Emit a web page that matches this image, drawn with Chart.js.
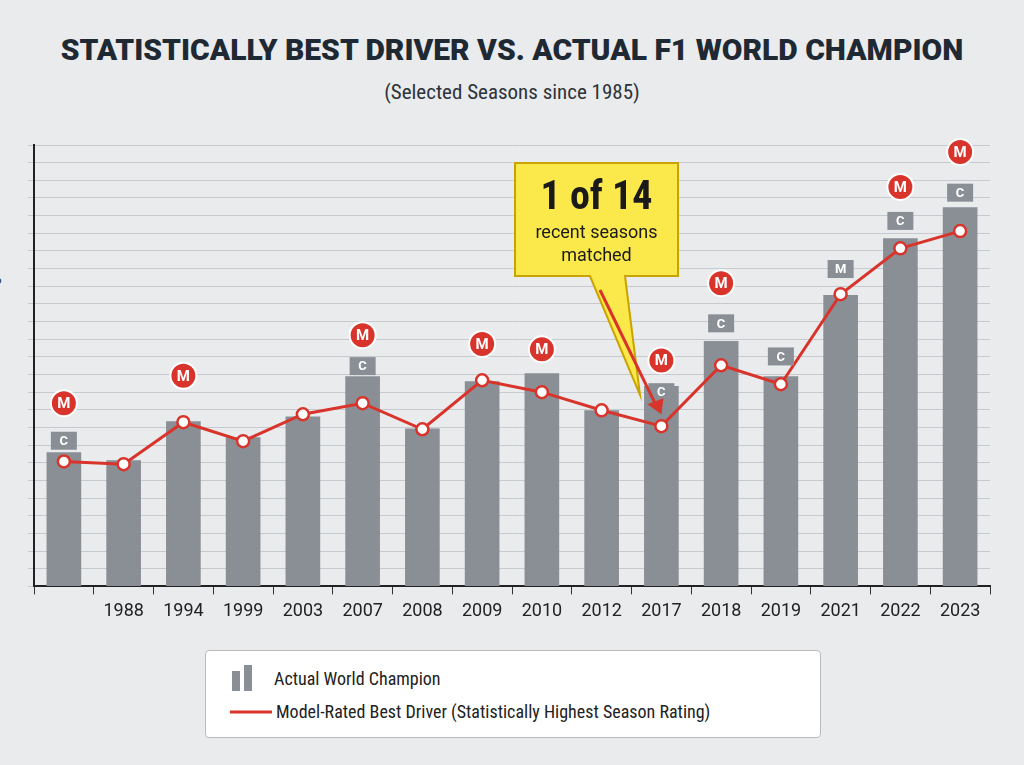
<!DOCTYPE html>
<html>
<head>
<meta charset="utf-8">
<script src="https://cdn.jsdelivr.net/npm/chart.js@4/dist/chart.umd.min.js"></script>
<style>
  body { margin:0; width:1024px; height:765px; background:#e9ebed; font-family:"Roboto Condensed","Roboto",sans-serif; position:relative; overflow:hidden; }
  #title { position:absolute; top:32px; width:100%; text-align:center; font-family:"Roboto"; font-weight:900; font-size:30px; color:#1f2933; letter-spacing:0; }
  #sub { position:absolute; top:80px; width:100%; text-align:center; font-size:21px; color:#2d3339; }
  #ytitle { position:absolute; left:-70px; top:330px; transform:rotate(-90deg); font-size:16px; color:#333; white-space:nowrap; }
  #wrap { position:absolute; left:0; top:0; width:1024px; height:640px; }
  #legend { position:absolute; left:205px; top:650px; width:614px; height:86px; background:#fff; border:1px solid #bbb; border-radius:4px; font-size:18px; color:#222; }
  .row { position:absolute; left:24px; display:flex; align-items:center; }
</style>
</head>
<body>
<div id="title">STATISTICALLY BEST DRIVER VS. ACTUAL F1 WORLD CHAMPION</div>
<div id="sub">(Selected Seasons since 1985)</div>
<div id="ytitle">Performance Rating</div>
<div id="wrap"><canvas id="c"></canvas></div>
<div id="legend">
  <div class="row" style="top:14px">
    <svg width="30" height="26"><rect x="2" y="6" width="8" height="20" fill="#8a8f96"/><rect x="14" y="0" width="8" height="26" fill="#8a8f96"/></svg>
    <span style="margin-left:14px">Actual World Champion</span>
  </div>
  <div class="row" style="top:50px">
    <svg width="42" height="10"><line x1="0" y1="5" x2="42" y2="5" stroke="#d9342b" stroke-width="3"/></svg>
    <span style="margin-left:4px">Model-Rated Best Driver (Statistically Highest Season Rating)</span>
  </div>
</div>
<script>
const seasons = ['', '1988', '1994', '1999', '2003', '2007', '2008', '2009', '2010', '2012', '2017', '2018', '2019', '2021', '2022', '2023'];
const championRating = [30.4, 28.6, 37.4, 33.8, 38.5, 47.6, 35.8, 46.5, 48.3, 39.9, 45.4, 55.6, 47.6, 66.0, 78.9, 85.9];
const modelRating = [28.3, 27.7, 37.2, 32.9, 39.0, 41.5, 35.6, 46.7, 44.0, 39.9, 36.3, 50.1, 45.8, 66.2, 76.6, 80.5];
// marker heights (rating units) for the "M" and "C" badges
const mBadge = [41.5, null, 47.7, null, null, 56.9, null, 54.9, 53.7, null, 51.2, 68.7, null, null, 90.5, 98.4];
const cBadge = [33.0, null, null, null, null, 49.9, null, null, null, null, 44.0, 59.6, 52.1, null, 82.8, 89.2];
const gBadgeM = [null, null, null, null, null, null, null, null, null, null, null, null, null, 71.9, null, null];

const badges = {
  id: 'badges',
  afterDatasetsDraw(chart) {
    const { ctx, scales: { x, y } } = chart;
    ctx.save();
    ctx.textAlign = 'center'; ctx.textBaseline = 'middle';
    const gray = (i, v, letter) => {
      const px = x.getPixelForValue(i), py = y.getPixelForValue(v);
      ctx.fillStyle = '#8a8f96';
      ctx.fillRect(px - 13, py - 9, 26, 18);
      ctx.fillStyle = '#fff';
      ctx.font = 'bold 13px Roboto';
      ctx.fillText(letter, px, py + 1);
    };
    cBadge.forEach((v, i) => { if (v != null) gray(i, v, 'C'); });
    gBadgeM.forEach((v, i) => { if (v != null) gray(i, v, 'M'); });
    mBadge.forEach((v, i) => {
      if (v == null) return;
      const px = x.getPixelForValue(i), py = y.getPixelForValue(v);
      ctx.beginPath(); ctx.arc(px, py, 13, 0, Math.PI * 2);
      ctx.fillStyle = '#d9342b'; ctx.fill();
      ctx.lineWidth = 2; ctx.strokeStyle = '#fff'; ctx.stroke();
      ctx.fillStyle = '#fff'; ctx.font = 'bold 15px Roboto';
      ctx.fillText('M', px, py + 1);
    });
    // callout
    const bx = 515, by = 163, bw = 163, bh = 113;
    const tx = x.getPixelForValue(10), ty = y.getPixelForValue(modelRating[10]) - 14;
    ctx.beginPath();
    ctx.moveTo(bx, by); ctx.lineTo(bx + bw, by); ctx.lineTo(bx + bw, by + bh);
    ctx.lineTo(625, by + bh); ctx.lineTo(640, 395); ctx.lineTo(590, by + bh);
    ctx.lineTo(bx, by + bh); ctx.closePath();
    ctx.fillStyle = '#fbe84a'; ctx.fill();
    ctx.strokeStyle = '#c9a400'; ctx.lineWidth = 2; ctx.stroke();
    ctx.strokeStyle = '#d9342b'; ctx.lineWidth = 3;
    ctx.beginPath(); ctx.moveTo(600, 290); ctx.lineTo(tx - 4, ty - 4); ctx.stroke();
    ctx.fillStyle = '#d9342b';
    ctx.beginPath(); ctx.moveTo(tx, ty + 2); ctx.lineTo(tx - 14, ty - 8); ctx.lineTo(tx + 2, ty - 14); ctx.closePath(); ctx.fill();
    ctx.fillStyle = '#1a1a1a';
    ctx.font = 'bold 40px "Roboto Condensed", Roboto';
    ctx.fillText('1 of 14', bx + bw / 2, by + 36);
    ctx.font = '18px Roboto';
    ctx.fillText('recent seasons', bx + bw / 2, by + 70);
    ctx.fillText('matched', bx + bw / 2, by + 93);
    ctx.restore();
  }
};

new Chart(document.getElementById('c'), {
  type: 'bar',
  data: {
    labels: seasons,
    datasets: [
      { type: 'line', label: 'Model-Rated Best Driver', data: modelRating, borderColor: '#d9342b', borderWidth: 3,
        pointBackgroundColor: '#fff', pointBorderColor: '#d9342b', pointBorderWidth: 2.5, pointRadius: 6, tension: 0, order: 0 },
      { label: 'Actual World Champion', data: championRating, backgroundColor: '#8a8f96',
        barPercentage: 0.58, categoryPercentage: 1, order: 1 }
    ]
  },
  options: {
    responsive: true, maintainAspectRatio: false, animation: false,
    layout: { padding: { left: 28, right: 34, top: 145, bottom: 12 } },
    plugins: { legend: { display: false }, tooltip: { enabled: false } },
    scales: {
      x: {
        grid: { offset: true, drawOnChartArea: false, color: '#333', tickLength: 8 },
        border: { color: '#222', width: 2 },
        ticks: { color: '#222', font: { size: 18, family: 'Roboto' }, padding: 6 }
      },
      y: {
        min: 0, max: 100,
        ticks: { display: false, stepSize: 4 },
        grid: { color: '#c6cacf', drawTicks: true, tickLength: 6 },
        border: { color: '#222', width: 2 }
      }
    }
  },
  plugins: [badges]
});
</script>
</body>
</html>
